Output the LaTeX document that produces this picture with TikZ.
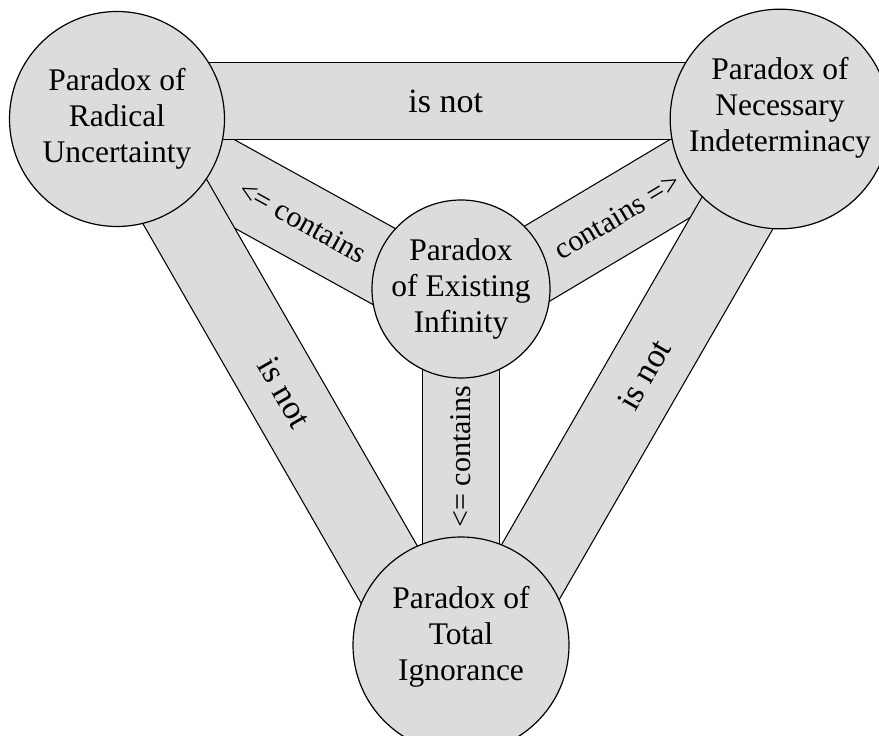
\documentclass[tikz,border=0pt]{standalone}
\usepackage{fontspec}
\setmainfont{Liberation Serif}
\usetikzlibrary{backgrounds}
\definecolor{paradoxgray}{RGB}{220,220,220}
\tikzset{
  paradox/.style={circle, draw, line width=0.6pt, fill=paradoxgray, align=center, inner sep=0pt, font=\fontsize{15.75}{18}\selectfont},
  band/.style={draw=black, line width=0.6pt, double=paradoxgray, double distance=38pt},
  notlabel/.style={font=\fontsize{17}{20}\selectfont},
  containslabel/.style={font=\fontsize{15}{18}\selectfont}
}

\begin{document}
\begin{tikzpicture}[x=0.5pt, y=0.5pt]
  \useasboundingbox (0,0) rectangle (879,735);
  % the four paradoxes
  \node[paradox, minimum size=107.5pt] (ru) at (117,616) {Paradox of\\Radical\\Uncertainty};
  \node[paradox, minimum size=108pt, text depth=14.4pt] (ni) at (780,616) {Paradox of\\Necessary\\Indeterminacy};
  \node[paradox, minimum size=89pt] (ei) at (461,446) {Paradox\\of Existing\\Infinity};
  \node[paradox, minimum size=108pt, text depth=11.4pt] (ti) at (461,90) {Paradox of\\Total\\Ignorance};
  \coordinate (hub) at ([yshift=-10pt]ei.center);
  \begin{scope}[on background layer]
    % contains
    \draw[band] (ru.center) -- node[containslabel, sloped, pos=0.54] {\textless= contains} (hub);
    \draw[band] (hub) -- node[containslabel, sloped, pos=0.49] {contains =\textgreater} (ni.center);
    \draw[band] (ti.center) -- node[containslabel, sloped, pos=0.56] {\textless= contains} (hub);
    % is not
    \draw[band] ([yshift=9pt]ru.center) -- node[notlabel, pos=0.48] {is not} ([shift={(11pt,9pt)}]ni.center);
    \draw[band] ([yshift=9pt]ru.center) -- node[notlabel, sloped, pos=0.49] {is not} ([shift={(-1pt,-25.5pt)}]ti.center);
    \draw[band] ([shift={(-1pt,-25.5pt)}]ti.center) -- node[notlabel, sloped, pos=0.54] {is not} ([shift={(11pt,9pt)}]ni.center);
  \end{scope}
\end{tikzpicture}
\end{document}
